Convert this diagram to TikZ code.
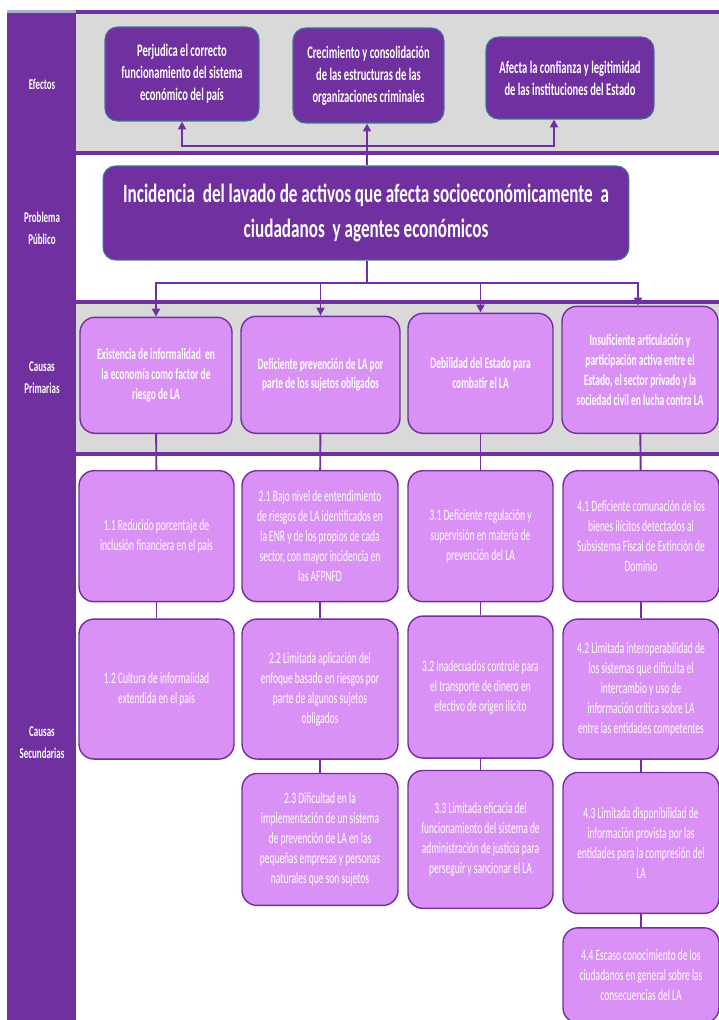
\documentclass[tikz,border=0pt]{standalone}
\usepackage{fontspec}
\setmainfont{Carlito}[FakeStretch=0.6]
\newfontfamily\anchafont{Carlito}[FakeStretch=0.65]
\usetikzlibrary{arrows.meta,positioning,calc}
\definecolor{morado}{HTML}{7030A0}
\definecolor{lila}{RGB}{218,145,245}
\definecolor{gris}{HTML}{D9D9D9}
\definecolor{borde}{HTML}{41719C}
\definecolor{tira}{RGB}{166,178,196}

\begin{document}
\begin{tikzpicture}[x=0.02cm, y=0.02cm, node distance=0.28cm and 0.2cm,
    efecto/.style={draw=borde, line width=0.6pt, fill=morado, text=white, rounded corners=0.25cm, align=center, font=\bfseries\fontsize{10}{12.5}\selectfont},
    primaria/.style={draw=morado, line width=0.8pt, fill=lila, text=white, rounded corners=0.3cm, align=center, anchor=south, font=\bfseries\fontsize{9}{11.3}\selectfont},
    secundaria/.style={draw=morado, line width=0.8pt, fill=lila, text=white, rounded corners=0.3cm, align=center, font=\fontsize{9}{11.4}\selectfont},
    etiqueta/.style={text=white, align=center, font=\bfseries\fontsize{8.5}{12.5}\selectfont},
    linea/.style={draw=morado, line width=1.1pt},
    flecha/.style={linea, -{Triangle[length=4.5pt,width=4.5pt]}},
    banda/.style={draw=morado, line width=2.2pt}]
      \useasboundingbox (0,0) rectangle (719,-1020);
      \fill[gris] (76,-14) rectangle (719,-151);
      \fill[gris] (76,-304) rectangle (719,-452);
      \draw[banda] (76,-12) -- (719,-12);
      \draw[banda] (76,-153) -- (719,-153);
      \draw[banda] (76,-302) -- (719,-302);
      \draw[banda] (76,-454) -- (719,-454);
      \fill[morado] (7,-13) rectangle (76,-1020);
      \fill[tira] (7,-10) rectangle (76,-13);

      \node[etiqueta] (lef) at (42,-84) {Efectos};
      \node[etiqueta] (lpp) at (42,-228) {Problema\\Público};
      \node[etiqueta] (lcp) at (42,-378) {Causas\\Primarias};
      \node[etiqueta] (lcs) at (42,-743) {Causas\\Secundarias};

      \node[efecto, minimum width=3.08cm, minimum height=1.88cm] (e1) at (182,-74) {Perjudica el correcto\\funcionamiento del sistema\\económico del país};
      \node[efecto, minimum width=3.02cm, minimum height=1.9cm] (e2) at (368.5,-75.5) {Crecimiento y consolidación\\de las estructuras de las\\organizaciones criminales};
      \node[efecto, minimum width=3.36cm, minimum height=1.64cm] (e3) at (570,-78) {Afecta la confianza y legitimidad\\de las instituciones del Estado};

      \node[efecto, minimum width=10.52cm, minimum height=1.88cm, font=\anchafont\bfseries\fontsize{15}{19.8}\selectfont] (prob) at (366,-213) {Incidencia\ \ del lavado de activos que afecta socioeconómicamente\ \ a\\ciudadanos\ \ y agentes económicos};

      \node[primaria, minimum width=3.04cm, minimum height=2.32cm] (p1) at (156,-434) {Existencia de informalidad\ \ en\\la economía como factor de\\riesgo de LA};
      \node[primaria, minimum width=3.18cm, minimum height=2.34cm] (p2) at (320.5,-434) {Deficiente prevención de LA por\\parte de los sujetos obligados};
      \node[primaria, minimum width=2.9cm, minimum height=2.4cm] (p3) at (480.5,-434) {Debilidad del Estado para\\combatir el LA};
      \node[primaria, minimum width=3.12cm, minimum height=2.54cm] (p4) at (640,-434) {Insuficiente articulación y\\participación activa entre el\\Estado, el sector privado y la\\sociedad civil en lucha contra LA};

      \node[secundaria, minimum width=3.1cm, minimum height=2.62cm, anchor=north] (s11) at (156.5,-470) {1.1 Reducido porcentaje de\\inclusión financiera en el país};
      \node[secundaria, minimum width=3.1cm, minimum height=2.8cm] (s12) [below=0.32cm of s11] {1.2 Cultura de informalidad\\extendida en el país};

      \node[secundaria, minimum width=3.12cm, minimum height=2.62cm, anchor=north] (s21) at (320,-470) {2.1 Bajo nivel de entendimiento\\de riesgos de LA identificados en\\la ENR y de los propios de cada\\sector, con mayor incidencia en\\las AFPNFD};
      \node[secundaria, minimum width=3.12cm, minimum height=2.8cm] (s22) [below=0.32cm of s21] {2.2 Limitada aplicación del\\enfoque basado en riesgos por\\parte de algunos sujetos\\obligados};
      \node[secundaria, minimum width=3.12cm, minimum height=2.64cm] (s23) [below=0.26cm of s22] {2.3 Dificultad en la\\implementación de un sistema\\de prevención de LA en las\\pequeñas empresas y personas\\naturales que son sujetos};

      \node[secundaria, minimum width=2.9cm, minimum height=2.62cm, anchor=north] (s31) at (480.5,-470) {3.1 Deficiente regulación y\\supervisión en materia de\\prevención del LA};
      \node[secundaria, minimum width=2.9cm, minimum height=2.84cm] (s32) [below=0.26cm of s31] {3.2 Inadecuados controle para\\el transporte de dinero en\\efectivo de origen ilícito};
      \node[secundaria, minimum width=2.9cm, minimum height=2.76cm] (s33) [below=0.22cm of s32] {3.3 Limitada eficacia del\\funcionamiento del sistema de\\administración de justicia para\\perseguir y sancionar el LA};

      \node[secundaria, minimum width=3.12cm, minimum height=2.62cm, anchor=north] (s41) at (641,-470) {4.1 Deficiente comunación de los\\bienes ilícitos detectados al\\Subsistema Fiscal de Extinción de\\Dominio};
      \node[secundaria, minimum width=3.12cm, minimum height=2.8cm] (s42) [below=0.32cm of s41] {4.2 Limitada interoperabilidad de\\los sistemas que dificulta el\\intercambio y uso de\\información crítica sobre LA\\entre las entidades competentes};
      \node[secundaria, minimum width=3.12cm, minimum height=2.82cm] (s43) [below=0.24cm of s42] {4.3 Limitada disponibilidad de\\información provista por las\\entidades para la compresión del\\LA};
      \node[secundaria, minimum width=3.12cm, minimum height=1.9cm] (s44) [below=0.26cm of s43] {4.4 Escaso conocimiento de los\\ciudadanos en general sobre las\\consecuencias del LA};

      \coordinate (ramae) at (367,-146);
      \coordinate (ramac) at (367,-283);
      \draw[flecha] (prob.north -| ramae) -- (ramae |- e2.south);
      \draw[flecha] (ramae) -| (e1.south);
      \draw[flecha] (ramae) -| ([xshift=-0.32cm]e3.south);
      \draw[linea] (prob.south -| ramac) -- (ramac);
      \draw[flecha] (ramac) -| (p1.north);
      \draw[flecha] (ramac) -| (p2.north);
      \draw[flecha] (ramac) -| (p3.north);
      \draw[flecha] (ramac) -| ([xshift=-0.04cm]p4.north);

      \draw[linea] (p1) edge (s11) (s11) edge (s12);
      \draw[linea] (p2) edge (s21) (s21) edge (s22) (s22) edge (s23);
      \draw[linea] (p3) edge (s31) (s31) edge (s32) (s32) edge (s33);
      \draw[linea] (p4) edge (s41) (s41) edge (s42) (s42) edge (s43) (s43) edge (s44);
    \end{tikzpicture}
\end{document}
